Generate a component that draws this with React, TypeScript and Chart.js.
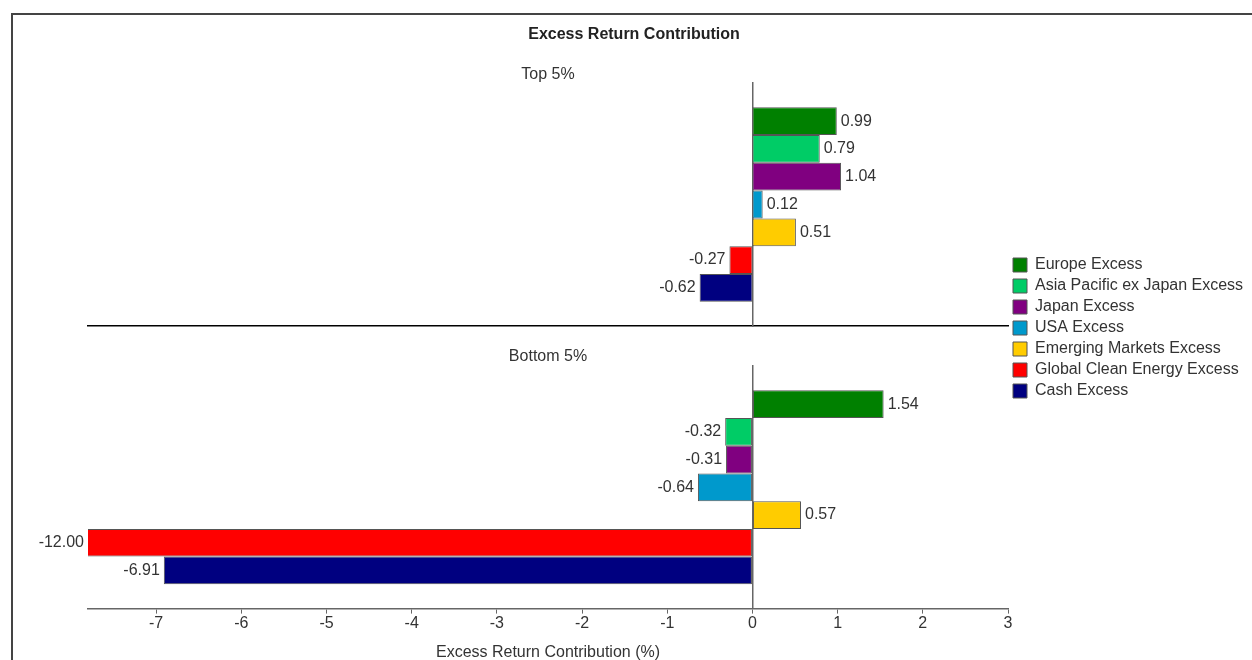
import React, { useEffect, useRef } from 'react';
import { Chart, registerables } from 'chart.js';

Chart.register(...registerables);
Chart.defaults.font.family = '"Liberation Sans", Arial, Helvetica, sans-serif';
Chart.defaults.color = '#333';

// Series and values
const seriesNames = [
  'Europe Excess',
  'Asia Pacific ex Japan Excess',
  'Japan Excess',
  'USA Excess',
  'Emerging Markets Excess',
  'Global Clean Energy Excess',
  'Cash Excess',
];
const seriesColors = ['#008000', '#00CC66', '#800080', '#0099CC', '#FFCC00', '#FF0000', '#000080'];
const top5Values = [0.99, 0.79, 1.04, 0.12, 0.51, -0.27, -0.62];
const bottom5Values = [1.54, -0.32, -0.31, -0.64, 0.57, -12.0, -6.91];

// Axis and text
const xMin = -7.8;
const xMax = 3;
const xStep = 1;
const chartTitle = 'Excess Return Contribution';
const topPanelTitle = 'Top 5%';
const bottomPanelTitle = 'Bottom 5%';
const xAxisTitle = 'Excess Return Contribution (%)';

const FONT = '"Liberation Sans", Arial, Helvetica, sans-serif';
const FONT_SIZE = 16;

// Layout of the two stacked panels
const PAGE_W = 1252;
const BOTTOM_CANVAS_W = 1268;
const PLOT_LEFT = 88;
const PLOT_RIGHT = 1008;
const LEGEND_BOX = 14;
const LEGEND_PAD = 5;

function makeDatasets(values: number[]) {
  return seriesNames.map((name, i) => ({
    label: name,
    data: [values[i]],
    backgroundColor: seriesColors[i],
    borderColor: '#555',
    borderWidth: 1,
    borderSkipped: false as const,
    categoryPercentage: 0.8,
    barPercentage: 1,
  }));
}

// Width the right-hand legend will take, so the plot can end at PLOT_RIGHT
function legendWidth() {
  const ctx = document.createElement('canvas').getContext('2d') as CanvasRenderingContext2D;
  ctx.font = `${FONT_SIZE}px ${FONT}`;
  const widest = Math.max(...seriesNames.map((n) => ctx.measureText(n).width));
  return LEGEND_BOX + FONT_SIZE / 2 + widest + LEGEND_PAD + 10;
}

// Writes each bar's value just past its end (clamped to the plot edge for clipped bars)
const valueLabels = {
  id: 'valueLabels',
  afterDatasetsDraw(chart: any) {
    const { ctx, chartArea } = chart;
    ctx.save();
    ctx.font = `${FONT_SIZE}px ${FONT}`;
    ctx.fillStyle = '#333';
    ctx.textBaseline = 'middle';
    chart.data.datasets.forEach((ds: any, di: number) => {
      const meta = chart.getDatasetMeta(di);
      meta.data.forEach((bar: any, i: number) => {
        const v = ds.data[i] as number;
        const text = v.toFixed(2);
        if (v >= 0) {
          ctx.textAlign = 'left';
          ctx.fillText(text, Math.min(bar.x, chartArea.right) + 4, bar.y);
        } else {
          ctx.textAlign = 'right';
          ctx.fillText(text, Math.max(bar.x, chartArea.left) - 4, bar.y);
        }
      });
    });
    ctx.restore();
  },
};

// Main heading, centred across the whole canvas
const heading = {
  id: 'heading',
  afterDraw(chart: any, _args: any, opts: any) {
    const { ctx } = chart;
    ctx.save();
    ctx.font = `bold ${FONT_SIZE}px ${FONT}`;
    ctx.fillStyle = '#222';
    ctx.textAlign = 'center';
    ctx.textBaseline = 'middle';
    ctx.fillText(opts.text, chart.width / 2, opts.y);
    ctx.restore();
  },
};

export default function App() {
  const topRef = useRef<HTMLCanvasElement>(null);
  const bottomRef = useRef<HTMLCanvasElement>(null);

  useEffect(() => {
    const rightPad = Math.max(0, BOTTOM_CANVAS_W - PLOT_RIGHT - legendWidth());

    const bottomChart = new Chart(bottomRef.current as HTMLCanvasElement, {
      type: 'bar',
      data: { labels: [bottomPanelTitle], datasets: makeDatasets(bottom5Values) as any },
      options: {
        indexAxis: 'y',
        animation: false,
        responsive: true,
        maintainAspectRatio: false,
        layout: { padding: { left: PLOT_LEFT, right: rightPad, top: 0, bottom: 0 } },
        scales: {
          x: {
            type: 'linear',
            min: xMin,
            max: xMax,
            ticks: { stepSize: xStep, includeBounds: false, font: { size: FONT_SIZE }, color: '#333', padding: 0 },
            grid: { drawOnChartArea: false, drawTicks: true, tickLength: 5, color: '#666' },
            border: { color: '#666', width: 1.5 },
            title: {
              display: true,
              text: xAxisTitle,
              font: { size: FONT_SIZE },
              color: '#333',
              padding: { top: 10, bottom: 0 },
            },
          },
          y: {
            type: 'category',
            position: { x: 0 } as any,
            ticks: { display: false },
            grid: { display: false },
            border: { color: '#666', width: 1.5 },
          },
        },
        plugins: {
          title: { display: false },
          subtitle: {
            display: true,
            text: bottomPanelTitle,
            fullSize: false,
            font: { size: FONT_SIZE, lineHeight: 1 },
            color: '#333',
            padding: { top: 355, bottom: 1 },
          },
          legend: {
            display: true,
            position: 'right',
            align: 'center',
            labels: {
              boxWidth: LEGEND_BOX,
              boxHeight: LEGEND_BOX,
              padding: LEGEND_PAD,
              font: { size: FONT_SIZE },
              color: '#333',
            },
          },
          tooltip: { enabled: false },
          heading: { text: chartTitle, y: 41 },
        } as any,
      },
      plugins: [valueLabels, heading],
    });

    const area = bottomChart.chartArea;

    const topChart = new Chart(topRef.current as HTMLCanvasElement, {
      type: 'bar',
      data: { labels: [topPanelTitle], datasets: makeDatasets(top5Values) as any },
      options: {
        indexAxis: 'y',
        animation: false,
        responsive: true,
        maintainAspectRatio: false,
        layout: {
          padding: { left: area.left, right: PAGE_W - area.right, top: 0, bottom: 4 },
        },
        scales: {
          x: {
            type: 'linear',
            min: xMin,
            max: xMax,
            ticks: { display: false },
            grid: { display: false, drawTicks: false },
            border: { color: '#000', width: 1.5 },
          },
          y: {
            type: 'category',
            position: { x: 0 } as any,
            ticks: { display: false },
            grid: { display: false },
            border: { color: '#666', width: 1.5 },
          },
        },
        plugins: {
          title: {
            display: true,
            text: topPanelTitle,
            fullSize: false,
            font: { size: FONT_SIZE, weight: 'normal', lineHeight: 1 },
            color: '#333',
            padding: { top: 67, bottom: 0 },
          },
          legend: { display: false },
          tooltip: { enabled: false },
        },
      },
      plugins: [valueLabels],
    });

    return () => {
      topChart.destroy();
      bottomChart.destroy();
    };
  }, []);

  return (
    <div
      style={{
        position: 'absolute',
        left: 0,
        top: 0,
        width: PAGE_W,
        height: 660,
        overflow: 'hidden',
        background: '#fff',
      }}
    >
      <div
        style={{
          position: 'absolute',
          left: 11,
          top: 13,
          width: 1300,
          height: 700,
          borderTop: '2px solid #444',
          borderLeft: '2px solid #444',
          boxSizing: 'border-box',
        }}
      />
      <div style={{ position: 'absolute', left: 0, top: -6, width: BOTTOM_CANVAS_W, height: 668 }}>
        <canvas ref={bottomRef} />
      </div>
      <div style={{ position: 'absolute', left: 0, top: 0, width: PAGE_W, height: 330 }}>
        <canvas ref={topRef} />
      </div>
    </div>
  );
}
